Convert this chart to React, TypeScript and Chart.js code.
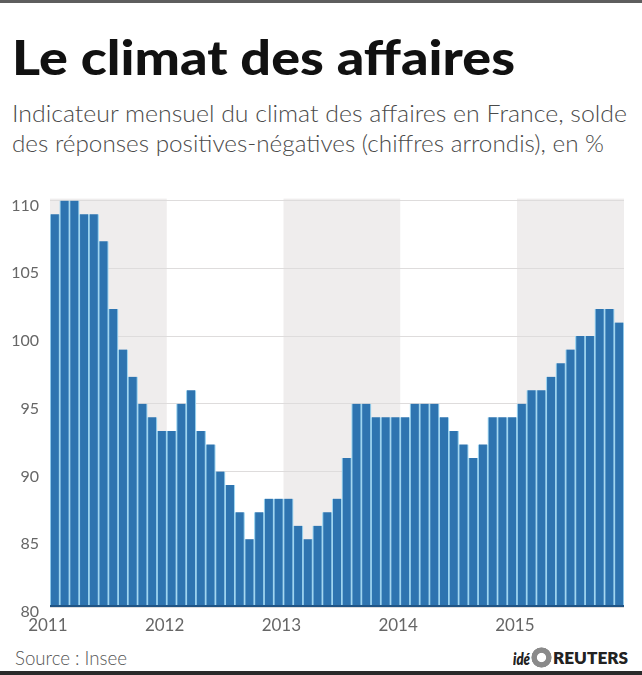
import React, { useEffect, useLayoutEffect, useRef } from 'react';
import { Chart, registerables } from 'chart.js';

Chart.register(...registerables);

// ---- Data ----
const years = ['2011', '2012', '2013', '2014', '2015'];
const values2011 = [109, 110, 110, 109, 109, 107, 102, 99, 97, 95, 94, 93];
const values2012 = [93, 95, 96, 93, 92, 90, 89, 87, 85, 87, 88, 88];
const values2013 = [88, 86, 85, 86, 87, 88, 91, 95, 95, 94, 94, 94];
const values2014 = [94, 95, 95, 95, 94, 93, 92, 91, 92, 94, 94, 94];
const values2015 = [95, 96, 96, 97, 98, 99, 100, 100, 102, 102, 101];
const yearValues = [values2011, values2012, values2013, values2014, values2015];
const shadedYears = [0, 2, 4]; // 2011, 2013, 2015
const yMin = 80;
const yMax = 110;
const yStep = 5;

const values = yearValues.flat();
const labels = years.flatMap((y, i) => yearValues[i].map((_, m) => `${y}-${String(m + 1).padStart(2, '0')}`));

const bandPlugin = {
  id: 'yearBands',
  beforeDraw(chart: any) {
    const { ctx, chartArea, scales } = chart;
    const x = scales.x;
    const step = x.getPixelForValue(1) - x.getPixelForValue(0);
    ctx.save();
    ctx.fillStyle = '#efeded';
    shadedYears.forEach((yi) => {
      const start = yi * 12;
      const end = Math.min(start + 11, values.length - 1);
      let l = x.getPixelForValue(start) - step / 2;
      let r = x.getPixelForValue(end) + step / 2;
      l = Math.max(l, chartArea.left - 2);
      r = Math.min(r, chartArea.right + 1);
      ctx.fillRect(l, chartArea.top - 2, r - l, chartArea.bottom - chartArea.top + 2);
    });
    ctx.restore();
  },
  afterDatasetsDraw(chart: any) {
    const { ctx, chartArea } = chart;
    ctx.save();
    ctx.fillStyle = '#1f5485';
    ctx.fillRect(chartArea.left, chartArea.bottom - 2, chartArea.right - chartArea.left, 2);
    ctx.restore();
  },
};

function FitText(props: { text: string; x: number; y: number; width: number; font: string; color: string }) {
  const ref = useRef<HTMLSpanElement>(null);
  useLayoutEffect(() => {
    const el = ref.current;
    if (!el) return;
    el.style.transform = 'none';
    const w = el.getBoundingClientRect().width;
    if (w > 0) el.style.transform = `scaleX(${props.width / w})`;
  }, [props.text, props.width, props.font]);
  return (
    <span
      ref={ref}
      style={{
        position: 'absolute',
        left: props.x,
        top: props.y,
        whiteSpace: 'nowrap',
        transformOrigin: '0 0',
        font: props.font,
        color: props.color,
        lineHeight: 1,
        display: 'inline-block',
      }}
    >
      {props.text}
    </span>
  );
}

function BarChart() {
  const canvasRef = useRef<HTMLCanvasElement>(null);
  useEffect(() => {
    if (!canvasRef.current) return;
    const chart = new Chart(canvasRef.current, {
      type: 'bar',
      data: {
        labels,
        datasets: [
          {
            data: values,
            backgroundColor: '#2e74b0',
            borderColor: '#9fd5f0',
            borderWidth: { left: 1.2, right: 1.2, top: 0, bottom: 0 } as any,
            borderSkipped: 'start',
            barPercentage: 1,
            categoryPercentage: 1,
          },
        ],
      },
      options: {
        responsive: false,
        animation: false,
        events: [],
        layout: { padding: { top: 15, right: 18, bottom: 0, left: 0 } },
        plugins: { legend: { display: false }, tooltip: { enabled: false }, title: { display: false } },
        scales: {
          x: {
            grid: { display: false, drawTicks: false },
            border: { display: false },
            afterFit: (scale: any) => {
              scale.height = 33;
            },
            ticks: {
              autoSkip: false,
              maxRotation: 0,
              minRotation: 0,
              padding: 8,
              labelOffset: -7,
              color: '#666',
              font: { family: 'Lato', size: 17 },
              callback: (_v: any, idx: number) => (idx % 12 === 0 ? years[idx / 12] : ''),
            },
          },
          y: {
            min: yMin,
            max: yMax,
            afterFit: (scale: any) => {
              scale.width = 50;
            },
            grid: { color: '#dedcdc', lineWidth: 1, drawTicks: false },
            border: { display: false },
            ticks: {
              stepSize: yStep,
              padding: 11,
              labelOffset: 5,
              color: '#666',
              font: { family: 'Lato', size: 16 },
            },
          },
        },
      },
      plugins: [bandPlugin],
    });
    return () => chart.destroy();
  }, []);
  return <canvas ref={canvasRef} width={642} height={460} style={{ display: 'block' }} />;
}

export default function App() {
  return (
    <div
      style={{
        position: 'absolute',
        left: 0,
        top: 0,
        width: 642,
        height: 675,
        background: '#fff',
        overflow: 'hidden',
        fontFamily: 'Lato, sans-serif',
      }}
    >
      <div style={{ position: 'absolute', left: 0, top: 0, width: 642, height: 3, background: '#5e5e5e' }} />
      <FitText text="Le climat des affaires" x={12} y={33} width={503} font="900 48px Lato" color="#111" />
      <FitText
        text="Indicateur mensuel du climat des affaires en France, solde"
        x={12}
        y={101}
        width={615}
        font="300 24px Lato"
        color="#4a4a4a"
      />
      <FitText
        text="des réponses positives-négatives (chiffres arrondis), en %"
        x={12}
        y={131}
        width={592}
        font="300 24px Lato"
        color="#4a4a4a"
      />
      <div style={{ position: 'absolute', left: 0, top: 180, width: 642, height: 460 }}>
        <BarChart />
      </div>
      <FitText text="Source : Insee" x={15} y={647} width={112} font="300 20px Lato" color="#555" />
      <FitText text="idé" x={513} y={651} width={17} font="italic 800 16px Lato" color="#222" />
      <div
        style={{
          position: 'absolute',
          left: 531,
          top: 647,
          width: 21,
          height: 21,
          borderRadius: '50%',
          background: 'radial-gradient(circle, #ffffff 0 28%, #8a8a8a 34% 66%, rgba(255,255,255,0) 70%)',
        }}
      />
      <FitText text="REUTERS" x={553} y={650} width={75} font="800 16px Lato" color="#222" />
      <div style={{ position: 'absolute', left: 0, top: 671, width: 642, height: 4, background: '#2a2a2a' }} />
    </div>
  );
}
